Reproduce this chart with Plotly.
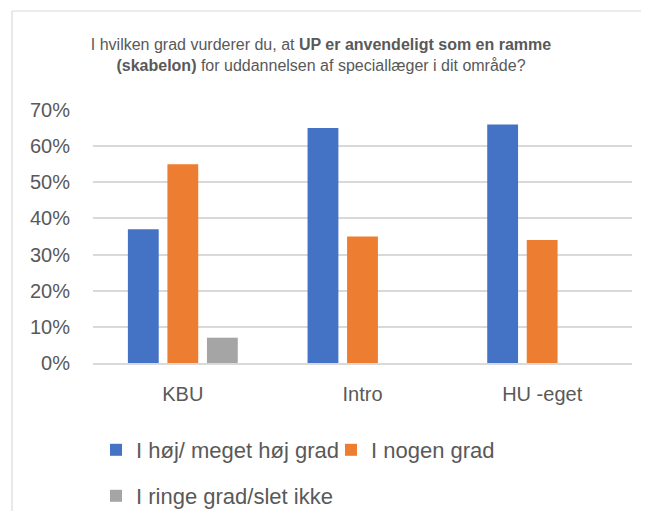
import plotly.graph_objects as go

categories = ["KBU", "Intro", "HU -eget"]
series_names = ["I høj/ meget høj grad", "I nogen grad", "I ringe grad/slet ikke"]
high = [0.37, 0.65, 0.66]
some = [0.55, 0.35, 0.34]
low = [0.07, 0, 0]
colors = ["#4472C4", "#ED7D31", "#A5A5A5"]
legend_ids = ["legend", "legend2", "legend3"]
y_ticks = [0, 0.1, 0.2, 0.3, 0.4, 0.5, 0.6, 0.7]
y_labels = ["0%", "10%", "20%", "30%", "40%", "50%", "60%", "70%"]

FONT = "Liberation Sans"
GREY = "#595959"

fig = go.Figure()
for name, vals, c, lg in zip(series_names, [high, some, low], colors, legend_ids):
    fig.add_trace(go.Bar(x=categories, y=vals, name=name, legend=lg, showlegend=True,
                         marker=dict(color=c, line=dict(width=0))))

# The page body adds an 8px margin, so the figure is drawn 8px smaller and offset.
OFF = 8
W, H = 649 - OFF, 519 - 2 * OFF
L, R, T, B = 93 - OFF, 17, 110 - OFF, H - (363 - OFF)
pw, ph = W - L - R, H - T - B

def px_to_paper_x(px):
    return (px - OFF - L) / pw

def px_to_paper_y(py):
    return (H - B - (py - OFF)) / ph

def cx(px):
    return (px - OFF) / W

def cy(py):
    return 1 - (py - OFF) / H

legend_common = dict(orientation="h", xref="container", yref="container",
                     xanchor="left", yanchor="top",
                     font=dict(size=22, color=GREY, family=FONT),
                     itemwidth=30, bgcolor="rgba(0,0,0,0)")

border = dict(type="line", xref="paper", yref="paper",
              line=dict(color="#D9D9D9", width=1.2), layer="below")

fig.update_layout(
    width=W, height=H,
    showlegend=True,
    margin=dict(l=L, r=R, t=T, b=B, autoexpand=False),
    paper_bgcolor="white", plot_bgcolor="white",
    barmode="group", bargap=0.34, bargroupgap=0.22,
    font=dict(family=FONT, color=GREY),
    title=dict(
        text="I hvilken grad vurderer du, at <b>UP er anvendeligt som en ramme</b><br><b>(skabelon)</b> for uddannelsen af speciallæger i dit område?",
        x=cx(321), xanchor="center", xref="container",
        y=cy(50), yanchor="top", yref="container",
        font=dict(size=16, color=GREY, family=FONT),
    ),
    yaxis=dict(range=[0, 0.7], tickvals=y_ticks, ticktext=y_labels, showgrid=True,
               gridcolor="#D9D9D9", gridwidth=1.5, zeroline=False, showline=False,
               tickfont=dict(size=20, color=GREY), ticks="", ticklabelstandoff=22,
               automargin=False, fixedrange=True),
    xaxis=dict(showline=True, linecolor="#D9D9D9", linewidth=1.5, ticks="",
               tickfont=dict(size=20, color=GREY), ticklabelstandoff=12,
               automargin=False, fixedrange=True),
    legend=dict(**legend_common, x=cx(96), y=cy(429)),
    legend2=dict(**legend_common, x=cx(331), y=cy(429)),
    legend3=dict(**legend_common, x=cx(96), y=cy(475)),
    shapes=[
        dict(border, x0=px_to_paper_x(12), x1=px_to_paper_x(665),
             y0=px_to_paper_y(11), y1=px_to_paper_y(11)),
        dict(border, x0=px_to_paper_x(12), x1=px_to_paper_x(12),
             y0=px_to_paper_y(11), y1=px_to_paper_y(535)),
    ],
)

fig.write_html("out.html")
